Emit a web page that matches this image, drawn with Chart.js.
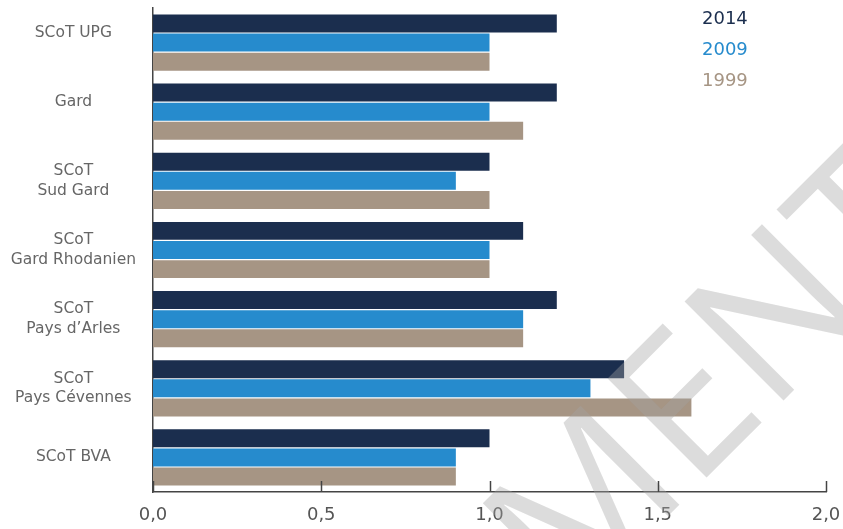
<!DOCTYPE html>
<html>
<head>
<meta charset="utf-8">
<script src="https://cdn.jsdelivr.net/npm/chart.js@4"></script>
<style>
  html, body { margin: 0; padding: 0; background: #fff; }
  #c { display: block; }
</style>
</head>
<body>
<canvas id="c" width="843" height="529"></canvas>
<script>
// Territoires (libellés sur deux lignes ; une ligne vide garde le texte en haut du groupe)
const categories = [
  ['SCoT UPG', ''],
  ['Gard', ''],
  ['SCoT', 'Sud Gard'],
  ['SCoT', 'Gard Rhodanien'],
  ['SCoT', 'Pays d\u2019Arles'],
  ['SCoT', 'Pays Cévennes'],
  'SCoT BVA'
];

const years = ['2014', '2009', '1999'];
const values2014 = [1.2, 1.2, 1.0, 1.1, 1.2, 1.4, 1.0];
const values2009 = [1.0, 1.0, 0.9, 1.0, 1.1, 1.3, 0.9];
const values1999 = [1.0, 1.1, 1.0, 1.0, 1.1, 1.6, 0.9];
const xTicks = [0, 0.5, 1.0, 1.5, 2.0];

const colors = ['#1b2e4e', '#268bcd', '#a69584'];
const FONT = '"DejaVu Sans", sans-serif';

// Légende textuelle en haut à droite
const textLegend = {
  id: 'textLegend',
  afterDraw(chart) {
    const ctx = chart.ctx;
    ctx.save();
    ctx.font = '18px ' + FONT;
    ctx.textAlign = 'left';
    ctx.textBaseline = 'middle';
    chart.data.datasets.forEach((ds, i) => {
      ctx.fillStyle = ds.backgroundColor;
      ctx.fillText(ds.label, 702, 19 + i * 31);
    });
    ctx.restore();
  }
};

// Graduations tournées vers l'intérieur sur l'axe des x
const innerTicks = {
  id: 'innerTicks',
  afterDraw(chart) {
    const ctx = chart.ctx;
    const x = chart.scales.x;
    const bottom = chart.chartArea.bottom;
    ctx.save();
    ctx.strokeStyle = '#444';
    ctx.lineWidth = 1.5;
    x.ticks.forEach(t => {
      const px = Math.round(x.getPixelForValue(t.value)) + 0.5;
      ctx.beginPath();
      ctx.moveTo(px, bottom - 11);
      ctx.lineTo(px, bottom);
      ctx.stroke();
    });
    ctx.restore();
  }
};

// Filigrane diagonal
const watermark = {
  id: 'watermark',
  afterDatasetsDraw(chart) {
    const ctx = chart.ctx;
    ctx.save();
    ctx.font = '400 196px "Open Sans"';
    ctx.fillStyle = 'rgba(164,164,164,0.38)';
    const lead = ctx.measureText('DOCUME').width;
    ctx.translate(770, 414);
    ctx.rotate(-Math.PI / 4);
    ctx.textBaseline = 'alphabetic';
    ctx.fillText('DOCUMENT', -lead, 0);
    ctx.restore();
  }
};

new Chart(document.getElementById('c'), {
  type: 'bar',
  data: {
    labels: categories,
    datasets: [
      { label: years[0], data: values2014, backgroundColor: colors[0] },
      { label: years[1], data: values2009, backgroundColor: colors[1] },
      { label: years[2], data: values1999, backgroundColor: colors[2] }
    ]
  },
  options: {
    indexAxis: 'y',
    responsive: false,
    animation: false,
    devicePixelRatio: 1,
    layout: { padding: { top: 8, right: 17, left: 0, bottom: 0 } },
    datasets: {
      bar: { barPercentage: 0.94, categoryPercentage: 0.83 }
    },
    plugins: {
      legend: { display: false },
      tooltip: { enabled: false }
    },
    scales: {
      x: {
        min: 0,
        max: 2,
        afterBuildTicks(scale) {
          scale.ticks = xTicks.map(v => ({ value: v }));
        },
        afterFit(scale) {
          scale.height = 37;
          scale.paddingLeft = 0;
          scale.paddingRight = 0;
        },
        grid: { display: false, drawTicks: false },
        border: { display: true, color: '#444', width: 1.5 },
        ticks: {
          padding: 13,
          color: '#555',
          font: { family: FONT, size: 18 },
          callback: v => Number(v).toFixed(1).replace('.', ',')
        }
      },
      y: {
        afterFit(scale) {
          scale.width = 153;
          scale.paddingTop = 0;
          scale.paddingBottom = 0;
        },
        grid: { display: false, drawTicks: false },
        border: { display: true, color: '#444', width: 1.5 },
        ticks: {
          crossAlign: 'center',
          padding: 17,
          color: '#666',
          font: { family: FONT, size: 15.5, lineHeight: 1.25 }
        }
      }
    }
  },
  plugins: [watermark, innerTicks, textLegend]
});
</script>
</body>
</html>
